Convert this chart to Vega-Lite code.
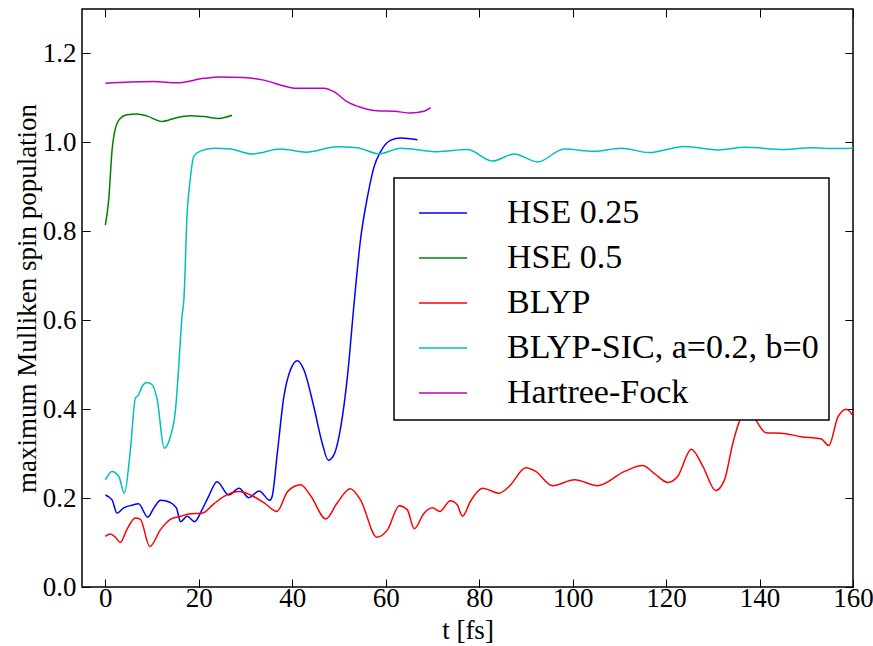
{
  "$schema": "https://vega.github.io/schema/vega-lite/v6.json",
  "width": 771,
  "height": 578,
  "autosize": {"type": "none"},
  "padding": {"left": 82, "top": 9, "right": 20, "bottom": 59},
  "background": "white",
  "config": {
    "view": {"stroke": "#000000", "strokeWidth": 1.5},
    "axis": {"grid": false, "domain": false, "labelFlush": false, "tickColor": "#000000", "tickSize": -8, "tickWidth": 1, "labelFont": "Liberation Serif", "labelFontSize": 27, "labelColor": "#000000", "titleFont": "Liberation Serif", "titleFontSize": 27, "titleFontWeight": "normal", "titleColor": "#000000"},
    "legend": {"strokeWidth": 1.5}
  },
  "data": {"values": [
    {"s":"HSE 0.25","t":0,"y":0.207},{"s":"HSE 0.25","t":1.43,"y":0.196},{"s":"HSE 0.25","t":2.5,"y":0.166},{"s":"HSE 0.25","t":3.93,"y":0.178},{"s":"HSE 0.25","t":5.7,"y":0.184},{"s":"HSE 0.25","t":7.1,"y":0.187},{"s":"HSE 0.25","t":9.07,"y":0.157},{"s":"HSE 0.25","t":10.4,"y":0.178},{"s":"HSE 0.25","t":11.8,"y":0.195},{"s":"HSE 0.25","t":13.9,"y":0.19},{"s":"HSE 0.25","t":15.2,"y":0.178},{"s":"HSE 0.25","t":16.1,"y":0.147},{"s":"HSE 0.25","t":17.5,"y":0.159},{"s":"HSE 0.25","t":19.1,"y":0.147},{"s":"HSE 0.25","t":20.7,"y":0.174},{"s":"HSE 0.25","t":22.1,"y":0.204},{"s":"HSE 0.25","t":23.9,"y":0.237},{"s":"HSE 0.25","t":26.4,"y":0.207},{"s":"HSE 0.25","t":28.6,"y":0.222},{"s":"HSE 0.25","t":30.7,"y":0.201},{"s":"HSE 0.25","t":32.9,"y":0.216},{"s":"HSE 0.25","t":35.2,"y":0.195},{"s":"HSE 0.25","t":35.7,"y":0.204},{"s":"HSE 0.25","t":36.8,"y":0.301},{"s":"HSE 0.25","t":38.2,"y":0.428},{"s":"HSE 0.25","t":39.6,"y":0.488},{"s":"HSE 0.25","t":41.1,"y":0.509},{"s":"HSE 0.25","t":42.5,"y":0.488},{"s":"HSE 0.25","t":44.6,"y":0.406},{"s":"HSE 0.25","t":46.4,"y":0.324},{"s":"HSE 0.25","t":47.7,"y":0.285},{"s":"HSE 0.25","t":48.9,"y":0.297},{"s":"HSE 0.25","t":50.4,"y":0.361},{"s":"HSE 0.25","t":51.8,"y":0.473},{"s":"HSE 0.25","t":53.3,"y":0.646},{"s":"HSE 0.25","t":54.6,"y":0.781},{"s":"HSE 0.25","t":56.1,"y":0.878},{"s":"HSE 0.25","t":57.5,"y":0.945},{"s":"HSE 0.25","t":58.9,"y":0.979},{"s":"HSE 0.25","t":61.1,"y":1.005},{"s":"HSE 0.25","t":63.2,"y":1.01},{"s":"HSE 0.25","t":66.8,"y":1.006},
    {"s":"HSE 0.5","t":0,"y":0.814},{"s":"HSE 0.5","t":0.71,"y":0.87},{"s":"HSE 0.5","t":1.43,"y":0.982},{"s":"HSE 0.5","t":2.14,"y":1.031},{"s":"HSE 0.5","t":3.2,"y":1.054},{"s":"HSE 0.5","t":4.6,"y":1.062},{"s":"HSE 0.5","t":6.8,"y":1.064},{"s":"HSE 0.5","t":9.0,"y":1.059},{"s":"HSE 0.5","t":12.1,"y":1.047},{"s":"HSE 0.5","t":15.4,"y":1.056},{"s":"HSE 0.5","t":18.2,"y":1.06},{"s":"HSE 0.5","t":21.1,"y":1.058},{"s":"HSE 0.5","t":24.3,"y":1.054},{"s":"HSE 0.5","t":27.1,"y":1.061},
    {"s":"BLYP","t":0,"y":0.114},{"s":"BLYP","t":1.07,"y":0.119},{"s":"BLYP","t":2.14,"y":0.112},{"s":"BLYP","t":3.2,"y":0.1},{"s":"BLYP","t":4.6,"y":0.129},{"s":"BLYP","t":6.4,"y":0.155},{"s":"BLYP","t":7.5,"y":0.152},{"s":"BLYP","t":9.5,"y":0.091},{"s":"BLYP","t":11.8,"y":0.129},{"s":"BLYP","t":13.9,"y":0.152},{"s":"BLYP","t":16.1,"y":0.159},{"s":"BLYP","t":18.2,"y":0.165},{"s":"BLYP","t":20.7,"y":0.166},{"s":"BLYP","t":23.2,"y":0.187},{"s":"BLYP","t":25.4,"y":0.204},{"s":"BLYP","t":28.6,"y":0.215},{"s":"BLYP","t":31.1,"y":0.207},{"s":"BLYP","t":34.0,"y":0.189},{"s":"BLYP","t":36.7,"y":0.17},{"s":"BLYP","t":39.0,"y":0.215},{"s":"BLYP","t":40.4,"y":0.226},{"s":"BLYP","t":41.8,"y":0.23},{"s":"BLYP","t":44.0,"y":0.204},{"s":"BLYP","t":47.2,"y":0.153},{"s":"BLYP","t":49.6,"y":0.189},{"s":"BLYP","t":52.4,"y":0.221},{"s":"BLYP","t":54.6,"y":0.196},{"s":"BLYP","t":58.1,"y":0.112},{"s":"BLYP","t":60.4,"y":0.129},{"s":"BLYP","t":62.9,"y":0.183},{"s":"BLYP","t":64.6,"y":0.174},{"s":"BLYP","t":66.1,"y":0.131},{"s":"BLYP","t":68.2,"y":0.166},{"s":"BLYP","t":70.0,"y":0.178},{"s":"BLYP","t":71.6,"y":0.17},{"s":"BLYP","t":73.8,"y":0.194},{"s":"BLYP","t":75.3,"y":0.185},{"s":"BLYP","t":76.4,"y":0.159},{"s":"BLYP","t":78.2,"y":0.194},{"s":"BLYP","t":80.7,"y":0.222},{"s":"BLYP","t":84.3,"y":0.211},{"s":"BLYP","t":86.4,"y":0.226},{"s":"BLYP","t":90.0,"y":0.268},{"s":"BLYP","t":92.1,"y":0.26},{"s":"BLYP","t":95.7,"y":0.228},{"s":"BLYP","t":100.4,"y":0.241},{"s":"BLYP","t":105.4,"y":0.228},{"s":"BLYP","t":111.1,"y":0.26},{"s":"BLYP","t":115.0,"y":0.273},{"s":"BLYP","t":117.5,"y":0.255},{"s":"BLYP","t":120.4,"y":0.235},{"s":"BLYP","t":122.5,"y":0.249},{"s":"BLYP","t":125.4,"y":0.31},{"s":"BLYP","t":127.9,"y":0.271},{"s":"BLYP","t":130.6,"y":0.217},{"s":"BLYP","t":132.5,"y":0.241},{"s":"BLYP","t":134.3,"y":0.324},{"s":"BLYP","t":136.1,"y":0.383},{"s":"BLYP","t":137.5,"y":0.398},{"s":"BLYP","t":138.9,"y":0.38},{"s":"BLYP","t":141.4,"y":0.347},{"s":"BLYP","t":144.6,"y":0.346},{"s":"BLYP","t":148.9,"y":0.338},{"s":"BLYP","t":153.2,"y":0.333},{"s":"BLYP","t":154.8,"y":0.318},{"s":"BLYP","t":156.8,"y":0.383},{"s":"BLYP","t":158.6,"y":0.4},{"s":"BLYP","t":160.3,"y":0.38},
    {"s":"BLYP-SIC, a=0.2, b=0","t":0,"y":0.241},{"s":"BLYP-SIC, a=0.2, b=0","t":1.43,"y":0.26},{"s":"BLYP-SIC, a=0.2, b=0","t":2.86,"y":0.249},{"s":"BLYP-SIC, a=0.2, b=0","t":4.07,"y":0.211},{"s":"BLYP-SIC, a=0.2, b=0","t":5.36,"y":0.309},{"s":"BLYP-SIC, a=0.2, b=0","t":6.43,"y":0.425},{"s":"BLYP-SIC, a=0.2, b=0","t":7.1,"y":0.432},{"s":"BLYP-SIC, a=0.2, b=0","t":7.86,"y":0.451},{"s":"BLYP-SIC, a=0.2, b=0","t":8.9,"y":0.46},{"s":"BLYP-SIC, a=0.2, b=0","t":10.0,"y":0.455},{"s":"BLYP-SIC, a=0.2, b=0","t":11.1,"y":0.421},{"s":"BLYP-SIC, a=0.2, b=0","t":12.6,"y":0.312},{"s":"BLYP-SIC, a=0.2, b=0","t":13.9,"y":0.338},{"s":"BLYP-SIC, a=0.2, b=0","t":15.0,"y":0.398},{"s":"BLYP-SIC, a=0.2, b=0","t":15.7,"y":0.496},{"s":"BLYP-SIC, a=0.2, b=0","t":16.4,"y":0.608},{"s":"BLYP-SIC, a=0.2, b=0","t":16.8,"y":0.646},{"s":"BLYP-SIC, a=0.2, b=0","t":17.5,"y":0.841},{"s":"BLYP-SIC, a=0.2, b=0","t":18.07,"y":0.908},{"s":"BLYP-SIC, a=0.2, b=0","t":18.9,"y":0.968},{"s":"BLYP-SIC, a=0.2, b=0","t":20.4,"y":0.981},{"s":"BLYP-SIC, a=0.2, b=0","t":23.2,"y":0.987},{"s":"BLYP-SIC, a=0.2, b=0","t":26.8,"y":0.985},{"s":"BLYP-SIC, a=0.2, b=0","t":31.4,"y":0.974},{"s":"BLYP-SIC, a=0.2, b=0","t":37.5,"y":0.985},{"s":"BLYP-SIC, a=0.2, b=0","t":42.9,"y":0.978},{"s":"BLYP-SIC, a=0.2, b=0","t":49.6,"y":0.99},{"s":"BLYP-SIC, a=0.2, b=0","t":53.9,"y":0.988},{"s":"BLYP-SIC, a=0.2, b=0","t":58.6,"y":0.974},{"s":"BLYP-SIC, a=0.2, b=0","t":63.2,"y":0.987},{"s":"BLYP-SIC, a=0.2, b=0","t":71.1,"y":0.979},{"s":"BLYP-SIC, a=0.2, b=0","t":77.5,"y":0.984},{"s":"BLYP-SIC, a=0.2, b=0","t":82.9,"y":0.958},{"s":"BLYP-SIC, a=0.2, b=0","t":87.5,"y":0.974},{"s":"BLYP-SIC, a=0.2, b=0","t":92.5,"y":0.956},{"s":"BLYP-SIC, a=0.2, b=0","t":98.2,"y":0.985},{"s":"BLYP-SIC, a=0.2, b=0","t":104.6,"y":0.98},{"s":"BLYP-SIC, a=0.2, b=0","t":110.4,"y":0.987},{"s":"BLYP-SIC, a=0.2, b=0","t":116.4,"y":0.977},{"s":"BLYP-SIC, a=0.2, b=0","t":123.9,"y":0.991},{"s":"BLYP-SIC, a=0.2, b=0","t":131.4,"y":0.983},{"s":"BLYP-SIC, a=0.2, b=0","t":136.8,"y":0.989},{"s":"BLYP-SIC, a=0.2, b=0","t":145.3,"y":0.984},{"s":"BLYP-SIC, a=0.2, b=0","t":151.1,"y":0.988},{"s":"BLYP-SIC, a=0.2, b=0","t":156.1,"y":0.986},{"s":"BLYP-SIC, a=0.2, b=0","t":160.3,"y":0.987},
    {"s":"Hartree-Fock","t":0,"y":1.133},{"s":"Hartree-Fock","t":5.36,"y":1.136},{"s":"Hartree-Fock","t":10.4,"y":1.137},{"s":"Hartree-Fock","t":15.4,"y":1.134},{"s":"Hartree-Fock","t":21.1,"y":1.144},{"s":"Hartree-Fock","t":24.6,"y":1.147},{"s":"Hartree-Fock","t":29.6,"y":1.146},{"s":"Hartree-Fock","t":33.9,"y":1.14},{"s":"Hartree-Fock","t":38.2,"y":1.127},{"s":"Hartree-Fock","t":40.4,"y":1.122},{"s":"Hartree-Fock","t":46.8,"y":1.122},{"s":"Hartree-Fock","t":48.9,"y":1.114},{"s":"Hartree-Fock","t":51.8,"y":1.091},{"s":"Hartree-Fock","t":54.6,"y":1.079},{"s":"Hartree-Fock","t":58.2,"y":1.071},{"s":"Hartree-Fock","t":61.8,"y":1.07},{"s":"Hartree-Fock","t":65.3,"y":1.066},{"s":"Hartree-Fock","t":68.2,"y":1.07},{"s":"Hartree-Fock","t":69.6,"y":1.078}
  ]},
  "layer": [
    {
      "mark": {"type": "line", "strokeWidth": 1.5, "interpolate": "monotone", "clip": true},
      "encoding": {
        "x": {"field": "t", "type": "quantitative", "scale": {"domain": [-5, 160], "nice": false, "zero": false}, "axis": {"orient": "bottom", "title": "t [fs]", "values": [0,20,40,60,80,100,120,140,160], "labelFlush": false, "labelPadding": 6, "titlePadding": 6}},
        "y": {"field": "y", "type": "quantitative", "scale": {"domain": [0, 1.3], "nice": false}, "axis": {"orient": "left", "title": "maximum Mulliken spin population", "values": [0,0.2,0.4,0.6,0.8,1.0,1.2], "format": ".1f", "labelFlush": false, "labelPadding": 14, "titlePadding": 1}},
        "color": {"field": "s", "type": "nominal", "sort": ["HSE 0.25","HSE 0.5","BLYP","BLYP-SIC, a=0.2, b=0","Hartree-Fock"], "scale": {"domain": ["HSE 0.25","HSE 0.5","BLYP","BLYP-SIC, a=0.2, b=0","Hartree-Fock"], "range": ["#0000ff","#008000","#ff0000","#00bfbf","#bf00bf"]}, "legend": {"title": null, "orient": "none", "legendX": 312, "legendY": 169, "strokeColor": "#000000", "fillColor": "#ffffff", "padding": 10, "cornerRadius": 0, "symbolType": "stroke", "symbolSize": 2304, "symbolStrokeWidth": 1.5, "symbolOffset": 14, "labelFont": "Liberation Serif", "labelFontSize": 34, "labelColor": "#000000", "labelOffset": 39, "labelLimit": 500, "rowPadding": 3}},
        "detail": {"field": "s"}
      }
    },
    {
      "mark": {"type": "line", "opacity": 0, "clip": true},
      "encoding": {
        "x": {"field": "t", "type": "quantitative", "scale": {"domain": [-5, 160], "nice": false, "zero": false}, "axis": {"orient": "top", "title": null, "labels": false, "values": [0,20,40,60,80,100,120,140,160]}},
        "y": {"field": "y", "type": "quantitative", "scale": {"domain": [0, 1.3], "nice": false}, "axis": {"orient": "right", "title": null, "labels": false, "values": [0,0.2,0.4,0.6,0.8,1.0,1.2]}},
        "detail": {"field": "s"}
      }
    }
  ],
  "resolve": {"axis": {"x": "independent", "y": "independent"}}
}
